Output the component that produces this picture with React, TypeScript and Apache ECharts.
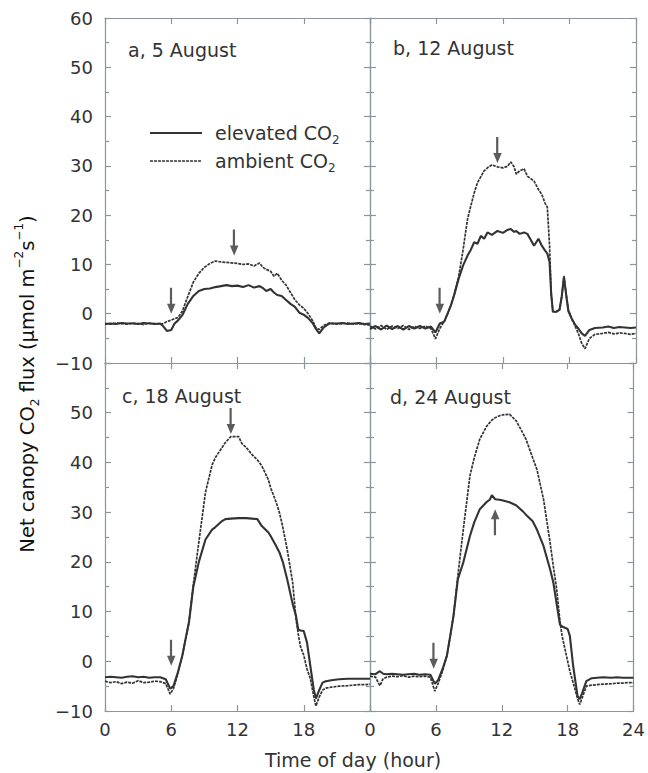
import React, { useEffect, useRef } from "react";
import * as echarts from "echarts";

const FONT = '"DejaVu Sans", "Liberation Sans", sans-serif';
const INK = "#333333";
const AXIS = "#8e949c";

// ---- Panel a, 5 August
const hoursA = [0,0.5,1,1.5,2,2.5,3,3.5,4,4.5,5,5.3,5.6,6,6.3,6.6,7,7.5,8,8.5,9,9.5,10,10.5,11,11.5,12,12.5,13,13.5,14,14.3,14.6,15,15.3,15.6,16,16.4,16.8,17.2,17.6,18,18.4,18.8,19.1,19.4,19.8,20.3,21,21.5,22,22.5,23,23.5,24];
const ambientA = [-2.0,-2.1,-1.9,-2.0,-2.1,-1.9,-2.0,-2.2,-1.9,-2.0,-2.1,-2.0,-1.6,-1.3,-1.0,-0.8,0.5,3.5,6.4,8.2,9.4,10.2,10.7,10.5,10.4,10.3,10.2,10.0,10.1,9.7,10.3,9.4,9.0,8.6,7.6,8.2,6.8,5.8,4.3,2.8,1.8,1.1,0.0,-1.4,-2.8,-3.2,-2.4,-1.9,-2.1,-2.0,-1.9,-2.1,-2.0,-2.2,-2.3];
const elevatedA = [-2.1,-2.0,-2.1,-1.9,-2.0,-2.0,-2.1,-1.9,-2.0,-2.1,-2.0,-2.6,-3.5,-3.3,-2.0,-1.4,-0.3,2.0,3.6,4.6,5.0,5.1,5.4,5.6,5.8,5.6,5.7,5.4,5.8,5.3,5.6,5.2,4.6,5.0,4.3,3.8,3.6,2.8,2.0,1.4,0.2,-0.2,-0.9,-1.9,-3.1,-4.0,-2.8,-2.0,-2.0,-1.9,-2.1,-2.0,-1.9,-2.1,-2.0];

// ---- Panel b, 12 August
const hoursB = [0,0.5,1,1.5,2,2.5,3,3.5,4,4.5,5,5.5,5.9,6.3,6.7,7,7.3,7.6,8,8.4,8.8,9.1,9.4,9.7,10,10.3,10.6,11,11.5,12,12.4,12.7,13,13.2,13.5,13.9,14.2,14.5,14.8,15.2,15.5,15.8,16,16.2,16.35,16.5,16.8,17.1,17.3,17.5,17.7,17.9,18.2,18.5,18.8,19.1,19.4,19.8,20.3,21,21.5,22,22.5,23,23.5,24];
const ambientB = [-2.5,-3.1,-2.4,-3.2,-2.5,-3.0,-2.4,-3.2,-2.6,-3.0,-2.5,-3.0,-5.1,-3.0,-1.5,0.0,1.7,4.0,7.5,13.0,19.2,21.9,24.5,26.6,27.8,29.0,29.6,30.2,29.8,29.6,29.9,30.8,29.8,28.3,29.0,29.4,27.9,27.4,26.9,25.2,24.2,22.4,21.6,13.8,4.0,0.4,0.4,0.8,3.5,7.7,4.0,0.8,-1.0,-2.5,-4.0,-6.0,-7.1,-5.0,-4.2,-4.0,-3.8,-4.1,-3.9,-4.0,-4.2,-4.0];
const elevatedB = [-3.1,-2.5,-3.2,-2.4,-3.1,-2.5,-3.2,-2.5,-3.0,-2.5,-3.0,-2.6,-3.8,-2.0,-1.6,0.0,1.7,3.8,7.1,9.8,11.8,13.0,14.5,14.2,15.8,15.2,16.5,16.0,16.8,16.4,17.0,17.2,16.6,16.8,16.2,16.5,16.2,15.0,13.8,15.2,13.8,12.8,12.2,10.5,4.0,0.4,0.4,0.8,3.5,7.4,3.8,0.5,-1.0,-2.2,-3.0,-4.0,-4.5,-3.3,-2.9,-2.8,-2.6,-2.9,-2.7,-2.8,-2.9,-2.8];

// ---- Panel c, 18 August
const hoursC = [0,0.5,1,1.5,2,2.5,3,3.5,4,4.5,5,5.5,5.9,6.2,6.6,7,7.3,7.6,8,8.5,9.1,9.7,10,10.6,10.9,11.4,12.1,12.4,12.8,13.3,13.8,14.2,14.8,15,15.5,15.8,16.1,16.5,17,17.3,17.5,17.7,18,18.3,18.6,18.9,19.1,19.4,19.7,20,20.5,21.2,22,22.5,23,23.5,24];
const ambientC = [-4.0,-4.3,-4.1,-4.5,-4.2,-4.4,-3.9,-4.3,-4.2,-4.0,-4.1,-4.5,-6.6,-5.5,-2.5,1.1,4.5,7.8,15.5,24.0,34.0,39.5,41.0,43.0,44.0,45.2,45.2,43.8,43.0,41.6,40.5,39.3,36.5,34.9,32.0,29.9,27.0,22.5,15.8,8.5,5.5,3.0,1.2,-1.6,-3.5,-7.0,-9.0,-7.2,-5.8,-5.4,-5.2,-5.0,-4.9,-4.8,-4.7,-4.7,-4.6];
const elevatedC = [-3.2,-3.1,-3.2,-3.3,-3.1,-3.0,-3.2,-3.1,-3.3,-3.2,-3.2,-3.6,-5.5,-5.0,-2.2,1.1,4.5,7.8,15.0,20.0,24.5,26.5,27.0,28.2,28.6,28.7,28.8,28.8,28.8,28.7,28.6,27.2,25.9,25.2,23.2,21.9,20.0,16.5,11.5,9.1,6.4,6.2,6.1,3.7,-1.0,-5.6,-7.5,-5.8,-4.3,-4.0,-3.8,-3.6,-3.5,-3.5,-3.5,-3.5,-3.5];

// ---- Panel d, 24 August
const hoursD = [0,0.5,0.9,1.2,1.5,2,2.5,3,3.5,4,4.5,5,5.5,5.9,6.2,6.6,7,7.3,7.6,8,8.5,9.1,9.5,10,10.6,10.9,11.1,11.4,11.8,12.2,12.7,13.3,13.9,14.2,14.8,15.2,15.8,16.4,16.7,17,17.3,17.5,17.7,18,18.2,18.5,18.9,19.1,19.3,19.7,20.2,21.2,22,22.5,23,23.5,24];
const ambientD = [-3.0,-3.2,-4.9,-3.5,-3.2,-3.0,-3.1,-2.9,-3.2,-3.0,-3.1,-3.0,-3.2,-6.0,-4.5,-2.0,1.1,5.0,9.1,17.2,26.6,37.3,41.0,44.7,47.2,48.0,48.5,49.0,49.4,49.6,49.7,48.4,46.0,44.7,41.0,38.6,32.6,23.9,19.0,14.5,8.0,5.0,3.0,0.0,-2.0,-4.3,-7.5,-8.7,-7.5,-5.0,-4.8,-4.6,-4.5,-4.4,-4.4,-4.3,-4.3];
const elevatedD = [-2.5,-2.6,-2.0,-2.5,-2.6,-2.5,-2.6,-2.7,-2.6,-2.5,-2.7,-2.6,-2.7,-4.5,-3.8,-1.6,1.1,5.0,9.1,16.5,19.9,25.2,28.0,30.6,32.0,32.5,33.4,32.6,32.5,32.3,32.0,31.4,30.2,29.5,28.2,26.5,23.2,18.5,15.8,11.5,7.4,7.0,6.8,6.5,5.1,-0.9,-7.0,-7.6,-6.5,-4.0,-3.4,-3.2,-3.3,-3.2,-3.3,-3.3,-3.3];

// ---- Arrows [hour, flux at arrow tip]
const arrowsDownA = [[6.0, 0.0], [11.7, 11.8]];
const arrowsDownB = [[6.3, 0.0], [11.5, 30.6]];
const arrowsDownC = [[6.0, -0.9], [11.4, 45.7]];
const arrowsDownD = [[5.8, -1.5]];
const arrowsUpD = [[11.4, 30.6]];

const panelTitles = ["a, 5 August", "b, 12 August", "c, 18 August", "d, 24 August"];
const xTicks = [0, 6, 12, 18, 24];
const yTicks = [-10, 0, 10, 20, 30, 40, 50, 60];

const ARROW_DOWN = "path://M2.9,0 L5.1,0 L5.1,16 L8.5,16 L4.25,26 L0,16 L2.9,16 Z";
const ARROW_UP = "path://M4.25,0 L8.5,10 L5.1,10 L5.1,26 L2.9,26 L2.9,10 L0,10 Z";

const zip = (h: number[], v: number[]) => h.map((x, i) => [x, v[i]]);

export default function App() {
  const ref = useRef<HTMLDivElement>(null);
  useEffect(() => {
    if (!ref.current) return;
    const chart = echarts.init(ref.current, undefined, { renderer: "svg" });

    const grids = [
      { left: 105, top: 18, width: 265, height: 345 },
      { left: 370, top: 18, width: 266, height: 345 },
      { left: 105, top: 363, width: 265, height: 348 },
      { left: 370, top: 363, width: 266, height: 348 },
    ];

    const axisLine = { show: true, onZero: false, lineStyle: { color: AXIS, width: 1.2 } };
    const tickStyle = { color: AXIS, width: 1.2 };
    const fmtNum = (v: number) => (v < 0 ? "\u2212" + Math.abs(v) : String(v));
    const xMin = xTicks[0], xMax = xTicks[xTicks.length - 1];
    const yMin = yTicks[0], yMax = yTicks[yTicks.length - 1];

    const xAxes: any[] = [];
    const yAxes: any[] = [];
    grids.forEach((_, i) => {
      xAxes.push({
        type: "value", gridIndex: i, position: "bottom", min: xMin, max: xMax, interval: 6,
        axisLine, splitLine: { show: false },
        axisTick: { show: true, inside: true, length: 6, lineStyle: tickStyle },
        axisLabel: {
          show: i >= 2, margin: 9, fontSize: 18, color: "#333", fontFamily: FONT,
          formatter: (v: number) => (i === 2 && v === 24 ? "" : String(v)),
        },
      });
      yAxes.push({
        type: "value", gridIndex: i, position: "left", min: yMin, max: yMax, interval: 10,
        axisLine, splitLine: { show: false },
        axisTick: { show: true, inside: true, length: 6, lineStyle: tickStyle },
        minorTick: { show: true, splitNumber: 2, length: 4, lineStyle: tickStyle },
        axisLabel: {
          show: i === 0 || i === 2, margin: 12, fontSize: 18, color: "#333", fontFamily: FONT,
          formatter: (v: number) => (i === 2 && v === 60 ? "" : fmtNum(v)),
        },
      });
    });
    grids.forEach((_, i) => {
      xAxes.push({
        type: "value", gridIndex: i, position: "top", min: xMin, max: xMax, interval: 6,
        axisLine, splitLine: { show: false },
        axisTick: { show: true, inside: true, length: 6, lineStyle: tickStyle },
        axisLabel: { show: false },
      });
      yAxes.push({
        type: "value", gridIndex: i, position: "right", min: yMin, max: yMax, interval: 10,
        axisLine, splitLine: { show: false },
        axisTick: { show: true, inside: true, length: 6, lineStyle: tickStyle },
        minorTick: { show: true, splitNumber: 2, length: 4, lineStyle: tickStyle },
        axisLabel: { show: false },
      });
    });

    const panels = [
      { hours: hoursA, amb: ambientA, ele: elevatedA, down: arrowsDownA, up: [] as number[][] },
      { hours: hoursB, amb: ambientB, ele: elevatedB, down: arrowsDownB, up: [] as number[][] },
      { hours: hoursC, amb: ambientC, ele: elevatedC, down: arrowsDownC, up: [] as number[][] },
      { hours: hoursD, amb: ambientD, ele: elevatedD, down: arrowsDownD, up: arrowsUpD },
    ];

    const series: any[] = [];
    panels.forEach((p, i) => {
      series.push({
        type: "line", name: "ambient CO2", xAxisIndex: i, yAxisIndex: i,
        data: zip(p.hours, p.amb), showSymbol: false, symbol: "none",
        lineStyle: { color: INK, width: 1.7, type: [3, 1] },
      });
      series.push({
        type: "line", name: "elevated CO2", xAxisIndex: i, yAxisIndex: i,
        data: zip(p.hours, p.ele), showSymbol: false, symbol: "none",
        lineStyle: { color: INK, width: 2.1 },
      });
      series.push({
        type: "scatter", xAxisIndex: i, yAxisIndex: i, data: p.down,
        symbol: ARROW_DOWN, symbolSize: [8.5, 26], symbolKeepAspect: false,
        symbolOffset: [0, -13], itemStyle: { color: INK }, z: 5,
      });
      if (p.up.length) {
        series.push({
          type: "scatter", xAxisIndex: i, yAxisIndex: i, data: p.up,
          symbol: ARROW_UP, symbolSize: [8.5, 26], symbolKeepAspect: false,
          symbolOffset: [0, 13], itemStyle: { color: INK }, z: 5,
        });
      }
    });

    const titlePos = [
      [128, 50], [393, 48], [122, 396], [390, 397],
    ];
    const textFill = "#333";
    const graphic: any[] = panelTitles.map((t, i) => ({
      type: "text", x: titlePos[i][0], y: titlePos[i][1],
      style: { text: t, font: `19px ${FONT}`, fill: textFill, textAlign: "left", textVerticalAlign: "middle" },
    }));
    graphic.push(
      { type: "line", shape: { x1: 150, y1: 133, x2: 202, y2: 133 }, style: { stroke: INK, lineWidth: 2.1 } },
      { type: "line", shape: { x1: 150, y1: 161, x2: 202, y2: 161 }, style: { stroke: INK, lineWidth: 1.7, lineDash: [3, 1] } },
      {
        type: "text", x: 215, y: 133,
        style: {
          text: "{n|elevated CO}{s|2}", fill: textFill, textVerticalAlign: "middle",
          rich: {
            n: { fontSize: 19, fontFamily: FONT, fill: textFill, lineHeight: 26, verticalAlign: "middle" },
            s: { fontSize: 12, fontFamily: FONT, fill: textFill, lineHeight: 12, verticalAlign: "bottom" },
          },
        },
      },
      {
        type: "text", x: 215, y: 161,
        style: {
          text: "{n|ambient CO}{s|2}", fill: textFill, textVerticalAlign: "middle",
          rich: {
            n: { fontSize: 19, fontFamily: FONT, fill: textFill, lineHeight: 26, verticalAlign: "middle" },
            s: { fontSize: 12, fontFamily: FONT, fill: textFill, lineHeight: 12, verticalAlign: "bottom" },
          },
        },
      },
      {
        type: "text", x: 353, y: 760,
        style: { text: "Time of day (hour)", font: `19px ${FONT}`, fill: textFill, textAlign: "center", textVerticalAlign: "middle" },
      },
      {
        type: "text", x: 27, y: 384, rotation: Math.PI / 2,
        style: {
          text: "{n|Net canopy CO}{s|2}{n| flux (\u03bcmol m}{p|\u22122}{n|s}{p|\u22121}{n|)}",
          fill: "#111", textAlign: "center", textVerticalAlign: "middle",
          rich: {
            n: { fontSize: 19.5, fontFamily: FONT, fill: "#111", lineHeight: 28, verticalAlign: "middle" },
            s: { fontSize: 12, fontFamily: FONT, fill: "#111", lineHeight: 12, verticalAlign: "bottom" },
            p: { fontSize: 12, fontFamily: FONT, fill: "#111", lineHeight: 12, verticalAlign: "top" },
          },
        },
      },
    );

    chart.setOption({
      animation: false,
      backgroundColor: "#ffffff",
      grid: grids.map((g) => ({ ...g, containLabel: false })),
      xAxis: xAxes,
      yAxis: yAxes,
      series,
      graphic,
    });
    return () => chart.dispose();
  }, []);

  return (
    <div
      ref={ref}
      style={{ position: "absolute", left: 0, top: 0, width: 648, height: 773, background: "#fff" }}
    />
  );
}
